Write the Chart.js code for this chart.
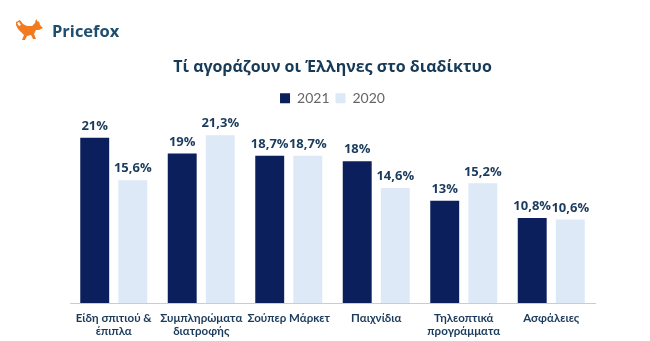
<!DOCTYPE html>
<html>
<head>
<meta charset="utf-8">
<script src="https://cdn.jsdelivr.net/npm/chart.js@4.4.1/dist/chart.umd.min.js"></script>
<style>
  html, body { margin: 0; padding: 0; background: #ffffff; }
  #wrap { position: relative; width: 650px; height: 341px; overflow: hidden; }
  #chart { position: absolute; left: 0; top: 0; }
  #logo { position: absolute; left: 15px; top: 17px; height: 26px; display: flex; align-items: center; }
  #logo span { font-family: "Open Sans", sans-serif; font-weight: 700; font-size: 16.5px; color: #1f4d6d; margin-left: 9px; }
</style>
</head>
<body>
<div id="wrap">
  <canvas id="chart" width="650" height="341"></canvas>
  <div id="logo">
    <svg width="28" height="22" viewBox="0 0 28 22">
      <path fill="#f27a21" d="M1 3 L5 1 L8 5 L12 7 L17 7 L20 4 L21 0 L23 3 L24 2 L25 6 L28 9 L24 11 L21 11 L19 15 L21 20 L18 20 L16 16 L12 17 L10 21 L7 21 L9 16 L6 13 L3 10 L1 6 Z"/>
      <path fill="#ffffff" d="M2 4 L4 3 L6 6 L4 7 Z"/>
    </svg>
    <span>Pricefox</span>
  </div>
</div>
<script>
const categories = [
  ["Είδη σπιτιού &", "έπιπλα"],
  ["Συμπληρώματα", "διατροφής"],
  "Σούπερ Μάρκετ",
  "Παιχνίδια",
  ["Τηλεοπτικά", "προγράμματα"],
  "Ασφάλειες"
];
const seriesNames = ["2021", "2020"];
const values2021 = [21, 19, 18.7, 18, 13, 10.8];
const values2020 = [15.6, 21.3, 18.7, 14.6, 15.2, 10.6];
const chartTitle = "Τί αγοράζουν οι Έλληνες στο διαδίκτυο";

const fmt = v => (Number.isInteger(v) ? String(v) : v.toFixed(1).replace('.', ',')) + '%';

const valueLabels = {
  id: 'valueLabels',
  afterDatasetsDraw(chart) {
    const ctx = chart.ctx;
    ctx.save();
    ctx.font = '700 13px "Open Sans", sans-serif';
    ctx.fillStyle = '#1b3b5c';
    ctx.textAlign = 'center';
    ctx.textBaseline = 'bottom';
    chart.data.datasets.forEach((ds, i) => {
      const meta = chart.getDatasetMeta(i);
      meta.data.forEach((el, j) => {
        ctx.fillText(fmt(ds.data[j]), el.x, el.y - 5);
      });
    });
    ctx.restore();
  }
};

new Chart(document.getElementById('chart'), {
  type: 'bar',
  data: {
    labels: categories,
    datasets: [
      { label: seriesNames[0], data: values2021, backgroundColor: '#0b1f5c', categoryPercentage: 0.87, barPercentage: 0.76 },
      { label: seriesNames[1], data: values2020, backgroundColor: '#dde9f6', categoryPercentage: 0.87, barPercentage: 0.76 }
    ]
  },
  options: {
    responsive: false,
    animation: false,
    layout: { padding: { left: 70, right: 55, top: 0, bottom: 0 } },
    plugins: {
      title: {
        display: true,
        text: chartTitle,
        color: '#173a57',
        font: { family: '"Open Sans", sans-serif', size: 16, weight: '700' },
        padding: { top: 58, bottom: 8 }
      },
      legend: {
        display: true,
        labels: {
          boxWidth: 10,
          boxHeight: 10,
          padding: 6,
          color: '#666666',
          font: { family: 'Lato, sans-serif', size: 14 }
        }
      },
      tooltip: { enabled: false }
    },
    scales: {
      x: {
        grid: { display: false, drawTicks: false },
        border: { display: true, color: '#cccccc', width: 1 },
        afterFit(scale) { scale.height = 38; },
        ticks: {
          color: '#1b3b5c',
          padding: 9,
          maxRotation: 0,
          autoSkip: false,
          font: { family: 'Lato, sans-serif', size: 11.5, weight: '700', lineHeight: 1.1 }
        }
      },
      y: {
        display: false,
        min: 0,
        max: 23.85
      }
    }
  },
  plugins: [valueLabels]
});
</script>
</body>
</html>
